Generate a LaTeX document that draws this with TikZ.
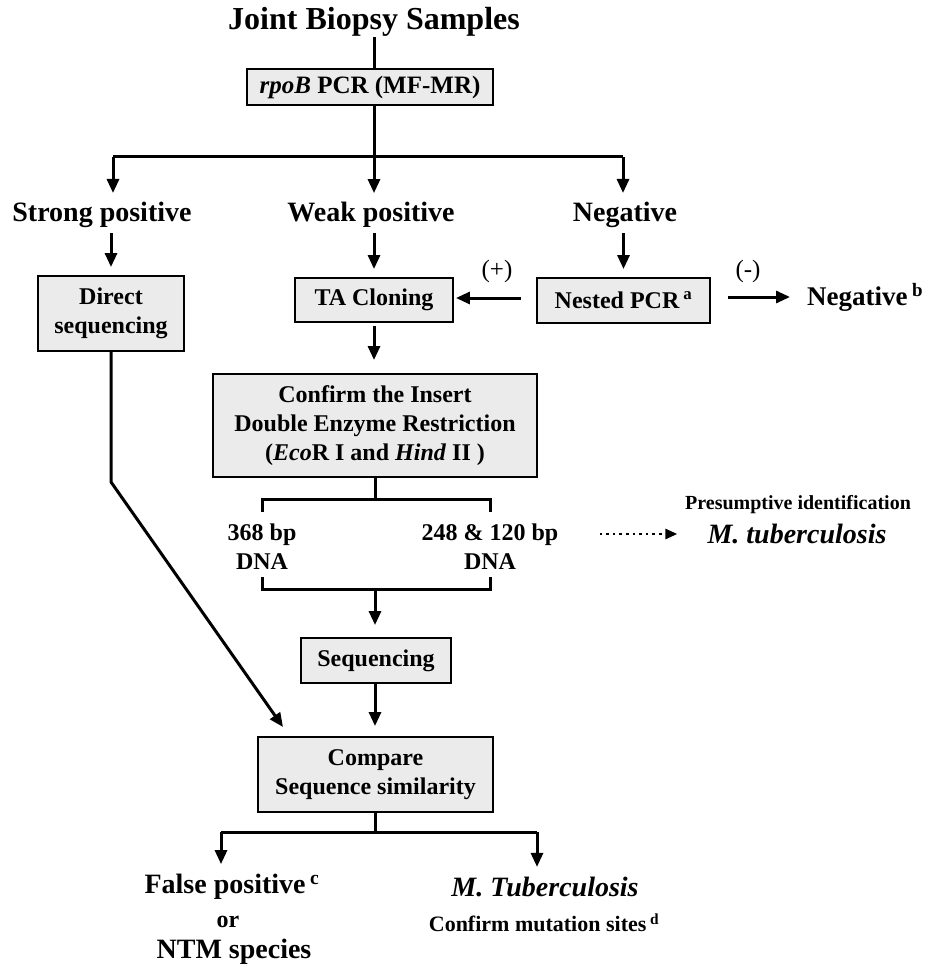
\documentclass[tikz,border=0pt]{standalone}
\usepackage{fontspec}
\setmainfont{Liberation Serif}
\usetikzlibrary{arrows.meta}
\newcommand{\fs}[1]{\fontsize{#1}{#1}\selectfont}
\begin{document}
\begin{tikzpicture}[x=1pt,y=-1pt,
  box/.style={draw=black, line width=1.9pt, fill=black!8, align=center, inner sep=0pt,
    font=\bfseries\fontsize{24}{29}\selectfont},
  lbl/.style={inner sep=0pt, align=center, font=\bfseries\fontsize{28}{31}\selectfont},
  sml/.style={inner sep=0pt, align=center, font=\bfseries\fontsize{24}{29}\selectfont},
  conn/.style={line width=3pt},
  arr/.style={line width=3pt, -{Triangle[length=14pt,width=12pt]}},
  dotarr/.style={line width=2.6pt, dash pattern=on 2.6pt off 4pt, -{Triangle[length=12pt,width=10pt]}},
]
\useasboundingbox (0,0) rectangle (930,968);

% title and first box
\node[lbl, font=\bfseries\fs{32}] (title) at (374,22) {Joint Biopsy Samples};
\node[box, font=\bfseries\fs{25}, minimum width=246pt, minimum height=36pt] (rpob) at (370,87) {\textit{rpoB} PCR (MF-MR)};
\draw[conn] (title.south -| 374,0) -- (rpob.north -| 374,0);

% branching
\coordinate (hb) at (374,157);
\coordinate (hl) at (113,157);
\coordinate (hr) at (623,157);
\draw[conn] (rpob.south -| hb) -- (hb);
\draw[conn] (hl) -- (hr);

\node[lbl] (strong) at (102,215) {Strong positive};
\node[lbl] (weak) at (371,215) {Weak positive};
\node[lbl] (neg) at (625,215) {Negative};

\draw[arr, shorten >=9pt] (hl) -- (hl |- strong.north);
\draw[arr, shorten >=9pt] (hb) -- (hb |- weak.north);
\draw[arr, shorten >=9pt] (hr) -- (hr |- neg.north);

% second level boxes
\node[box, minimum width=146pt, minimum height=75pt] (direct) at (111,313.5) {Direct\\sequencing};
\node[box, minimum width=158pt, minimum height=44pt] (ta) at (374,300) {TA Cloning};
\node[box, minimum width=173pt, minimum height=45pt] (nested) at (623.5,300.5) {Nested PCR\,\textsuperscript{a}};

\draw[arr, shorten <=5pt, shorten >=8pt] (strong.south -| direct.north) -- (direct.north);
\draw[arr, shorten <=5pt, shorten >=8pt] (weak.south -| ta.north) -- (ta.north);
\draw[arr, shorten <=5pt, shorten >=8pt] (neg.south -| nested.north) -- (nested.north);

\node[inner sep=0pt, font=\fs{25}] (plus) at (497,271) {(+)};
\node[inner sep=0pt, font=\fs{25}] (minus) at (748,271) {(-)};
\node[lbl, font=\bfseries\fs{27}, anchor=west] (negb) at (807,297) {Negative\,\textsuperscript{b}};

\draw[arr, shorten <=15pt, shorten >=2pt] (nested.west |- 0,298) -- (ta.east |- 0,298);
\draw[arr, shorten <=17pt, shorten >=17pt] (nested.east |- negb.west) -- (negb.west);

% confirm insert
\node[box, minimum width=324pt, minimum height=103pt] (confirm) at (375,425.5)
  {Confirm the Insert\\Double Enzyme Restriction\\(\textit{Eco}R I and \textit{Hind} II )};
\draw[arr, shorten <=3pt, shorten >=13pt] (ta.south) -- (ta.south |- confirm.north);

% bracket with fragments
\coordinate (bt) at (375,499);
\coordinate (btl) at (262,499);
\coordinate (btr) at (490,499);
\coordinate (btld) at (262,512);
\coordinate (btrd) at (490,512);
\draw[conn] (confirm.south -| bt) -- (bt);
\draw[conn] (btld) -- (btl) -- (btr) -- (btrd);

\node[sml] (d368) at (262,546.5) {368 bp\\DNA};
\node[sml] (d248) at (490,546.5) {248 \& 120 bp\\DNA};

\coordinate (bb) at (375,589);
\coordinate (bbl) at (262,589);
\coordinate (bbr) at (490,589);
\coordinate (bblu) at (262,577);
\coordinate (bbru) at (490,577);
\draw[conn] (bblu) -- (bbl) -- (bbr) -- (bbru);

\node[inner sep=0pt, font=\bfseries\fs{20}] (presum) at (798,505) {Presumptive identification};
\node[inner sep=0pt, font=\bfseries\itshape\fs{28}] (mtbp) at (797,534) {M. tuberculosis};
\draw[dotarr, shorten <=41pt, shorten >=30pt] (d248.east |- mtbp.west) -- (mtbp.west);

% sequencing
\node[box, minimum width=150pt, minimum height=45pt] (seq) at (376,660.5) {Sequencing};
\draw[arr, shorten >=12pt] (bb) -- (bb |- seq.north);

\node[box, minimum width=235pt, minimum height=75pt] (compare) at (375.5,774.5) {Compare\\Sequence similarity};
\draw[arr, shorten >=10pt] (seq.south -| bb) -- (compare.north -| bb);

% direct sequencing path
\coordinate (dk) at (111,482);
\coordinate (dtip) at (283,727);
\draw[arr] (direct.south) -- (dk) -- (dtip);

% final branch
\coordinate (fb) at (375,832);
\coordinate (fbl) at (221,832);
\coordinate (fbr) at (537,832);
\draw[conn] (compare.south -| fb) -- (fb);
\draw[conn] (fbl) -- (fbr);

\node[lbl] (fp) at (232,887) {False positive\,\textsuperscript{c}};
\node[sml] (or) at (228,922) {or};
\node[lbl] (ntm) at (234,952) {NTM species};
\node[lbl, font=\bfseries\itshape\fs{28}] (mtb) at (545,887) {M. Tuberculosis};
\node[inner sep=0pt, font=\bfseries\fs{22}] (mut) at (544,923) {Confirm mutation sites\,\textsuperscript{d}};

\draw[arr, shorten >=10pt] (fbl) -- (fbl |- fp.north);
\draw[arr, shorten >=10pt] (fbr) -- (fbr |- mtb.north);
\end{tikzpicture}
\end{document}
